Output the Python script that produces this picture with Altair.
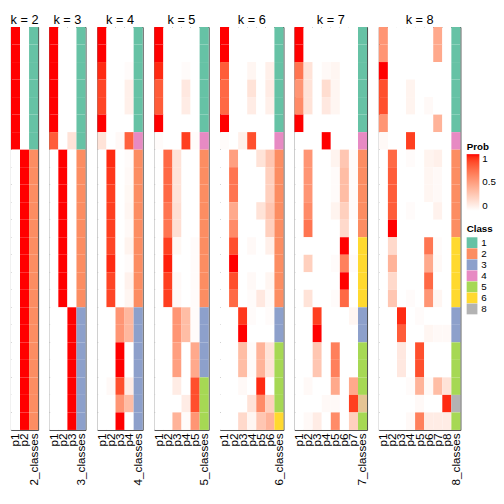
import altair as alt
import pandas as pd

# ---- data ----
prob_k2 = [
    [1, 0], [1, 0], [1, 0], [1, 0], [1, 0], [1, 0], [1, 0],
    [0, 1], [0, 1], [0, 1], [0, 1], [0, 1], [0, 1], [0, 1], [0, 1],
    [0, 1], [0, 1], [0, 1], [0, 1], [0, 1], [0, 1], [0, 1], [0, 1],
]
prob_k3 = [
    [1, 0, 0], [1, 0, 0], [1, 0, 0], [1, 0, 0], [1, 0, 0], [1, 0, 0],
    [0.8, 0, 0.15],
    [0, 1, 0], [0, 1, 0], [0, 1, 0], [0, 1, 0], [0, 1, 0], [0, 1, 0],
    [0, 1, 0], [0, 1, 0], [0, 1, 0],
    [0, 0, 1], [0, 0, 1], [0, 0, 1], [0, 0, 1], [0, 0, 1], [0, 0, 1], [0, 0, 1],
]
prob_k4 = [
    [1, 0, 0, 0], [1, 0, 0, 0], [0.95, 0, 0, 0.02], [0.88, 0, 0, 0.08],
    [0.88, 0, 0, 0.08], [1, 0, 0, 0], [0.15, 0, 0.03, 0.78],
    [0, 0.95, 0, 0.02], [0, 0.92, 0, 0.03], [0, 0.9, 0, 0.04], [0, 0.9, 0, 0.05],
    [0, 0.9, 0, 0.03], [0, 0.88, 0, 0.06], [0, 0.95, 0, 0.02], [0, 0.88, 0, 0.07],
    [0, 0.88, 0, 0.05],
    [0, 0, 0.55, 0.38], [0, 0, 0.55, 0.38], [0, 0, 1, 0], [0, 0, 1, 0],
    [0, 0.03, 0.85, 0.1], [0, 0, 0.55, 0.35], [0, 0, 1, 0],
]
prob_k5 = [
    [1, 0, 0, 0, 0], [1, 0, 0, 0, 0], [0.95, 0, 0, 0.02, 0], [0.8, 0, 0, 0.12, 0],
    [0.8, 0, 0, 0.1, 0], [1, 0, 0, 0, 0], [0.02, 0, 0, 0.9, 0.02],
    [0, 0.75, 0.15, 0, 0], [0, 0.75, 0.15, 0, 0], [0, 0.75, 0.15, 0, 0],
    [0, 0.7, 0.17, 0, 0], [0, 0.7, 0.17, 0, 0], [0, 0.9, 0.04, 0, 0.02],
    [0, 0.97, 0, 0, 0.02], [0, 0.9, 0.03, 0, 0.02], [0, 0.9, 0.03, 0, 0.02],
    [0, 0, 0.55, 0.35, 0.02], [0, 0, 0.55, 0.35, 0.02], [0, 0, 0.5, 0, 0.45],
    [0, 0, 0.5, 0, 0.45], [0, 0, 0.1, 0, 0.85], [0, 0, 0, 0.1, 0.85],
    [0, 0, 0.4, 0.02, 0.55],
]
prob_k6 = [
    [1, 0, 0, 0, 0, 0], [1, 0, 0, 0, 0, 0], [0.8, 0, 0, 0.05, 0, 0.08],
    [0.75, 0, 0, 0.15, 0, 0.1], [0.75, 0, 0, 0.1, 0, 0.08], [1, 0, 0, 0, 0, 0],
    [0.02, 0, 0.08, 0.85, 0, 0],
    [0, 0.5, 0, 0, 0.15, 0.3], [0, 0.7, 0, 0, 0, 0.25], [0, 0.7, 0, 0, 0, 0.25],
    [0, 0.45, 0, 0, 0.15, 0.3], [0, 0.6, 0, 0, 0, 0.25], [0, 0.85, 0, 0.03, 0, 0.08],
    [0, 1, 0, 0, 0, 0], [0, 0.85, 0, 0.03, 0, 0.05], [0, 0.75, 0, 0.02, 0.12, 0.03],
    [0, 0, 0.92, 0.02, 0, 0.02], [0, 0, 1, 0, 0, 0], [0, 0, 0.35, 0.02, 0.4, 0.15],
    [0, 0, 0.35, 0.02, 0.4, 0.15], [0, 0, 0.03, 0, 0.95, 0], [0, 0, 0, 0.15, 0.6, 0.25],
    [0, 0, 0.2, 0.05, 0.3, 0.4],
]
prob_k7 = [
    [1, 0, 0, 0, 0, 0, 0], [1, 0, 0, 0, 0, 0, 0], [0.7, 0.15, 0, 0.03, 0.05, 0, 0],
    [0.55, 0.15, 0, 0.18, 0.05, 0, 0], [0.6, 0.15, 0, 0.12, 0.05, 0, 0],
    [1, 0, 0, 0, 0, 0, 0], [0, 0, 0, 1, 0, 0, 0],
    [0, 0.55, 0, 0, 0.06, 0.3, 0.02], [0, 0.55, 0, 0, 0.02, 0.35, 0.02],
    [0, 0.55, 0, 0, 0.02, 0.35, 0.02], [0, 0.6, 0, 0, 0.06, 0.25, 0.02],
    [0, 0.7, 0, 0, 0, 0.2, 0], [0, 0, 0, 0, 0, 1, 0],
    [0, 0.25, 0, 0, 0.02, 0.65, 0.02], [0, 0, 0, 0, 0, 1, 0],
    [0, 0.15, 0, 0, 0.02, 0.75, 0],
    [0, 0, 0.9, 0, 0, 0, 0.05], [0, 0, 1, 0, 0, 0, 0], [0, 0, 0.3, 0, 0.65, 0, 0],
    [0, 0, 0.3, 0, 0.65, 0, 0], [0, 0.03, 0, 0, 0.45, 0, 0.45],
    [0, 0, 0, 0.03, 0.03, 0, 0.9], [0, 0.03, 0.1, 0, 0.6, 0, 0.25],
]
prob_k8 = [
    [0.55, 0, 0, 0, 0, 0, 0.45, 0], [0.55, 0, 0, 0, 0, 0, 0.45, 0],
    [1, 0, 0, 0, 0, 0, 0, 0], [0.85, 0, 0, 0.06, 0, 0, 0, 0],
    [0.85, 0, 0, 0.06, 0, 0.03, 0, 0], [0.55, 0, 0, 0, 0, 0, 0.4, 0],
    [0.03, 0, 0, 0.9, 0, 0, 0, 0],
    [0, 0.75, 0, 0.02, 0, 0.06, 0.08, 0], [0, 0.8, 0, 0, 0, 0.05, 0.03, 0],
    [0, 0.8, 0, 0, 0, 0.05, 0.03, 0], [0, 0.8, 0, 0.02, 0, 0, 0.07, 0],
    [0, 1, 0, 0, 0, 0, 0, 0], [0, 0.2, 0, 0, 0, 0.7, 0.02, 0],
    [0, 0.4, 0, 0, 0, 0.45, 0.03, 0], [0, 0.2, 0, 0, 0, 0.75, 0, 0],
    [0, 0.3, 0, 0.02, 0, 0.55, 0.05, 0],
    [0, 0, 0.95, 0, 0.02, 0, 0, 0], [0, 0, 0.8, 0, 0, 0.05, 0.03, 0.03],
    [0, 0, 0.12, 0, 0.85, 0, 0, 0], [0, 0, 0.12, 0, 0.85, 0, 0, 0],
    [0, 0, 0, 0.02, 0.4, 0.03, 0.35, 0.15], [0, 0, 0, 0, 0.03, 0, 0, 0.95],
    [0, 0, 0, 0.03, 0.65, 0.1, 0.1, 0.1],
]

class_k2 = [1, 1, 1, 1, 1, 1, 1, 2, 2, 2, 2, 2, 2, 2, 2, 2, 2, 2, 2, 2, 2, 2, 2]
class_k3 = [1, 1, 1, 1, 1, 1, 1, 2, 2, 2, 2, 2, 2, 2, 2, 2, 3, 3, 3, 3, 3, 3, 3]
class_k4 = [1, 1, 1, 1, 1, 1, 4, 2, 2, 2, 2, 2, 2, 2, 2, 2, 3, 3, 3, 3, 3, 3, 3]
class_k5 = [1, 1, 1, 1, 1, 1, 4, 2, 2, 2, 2, 2, 2, 2, 2, 2, 3, 3, 3, 3, 5, 5, 5]
class_k6 = [1, 1, 1, 1, 1, 1, 4, 2, 2, 2, 2, 2, 2, 2, 2, 2, 3, 3, 5, 5, 5, 5, 6]
class_k7 = [1, 1, 1, 1, 1, 1, 4, 2, 2, 2, 2, 2, 6, 6, 6, 6, 3, 3, 5, 5, 5, 7, 5]
class_k8 = [1, 1, 1, 1, 1, 1, 4, 2, 2, 2, 2, 2, 6, 6, 6, 6, 3, 3, 5, 5, 5, 8, 5]

class_domain = ["1", "2", "3", "4", "5", "6", "7", "8"]
class_colors = ["#66C2A5", "#FC8D62", "#8DA0CB", "#E78AC3", "#A6D854",
                "#FFD92F", "#E5C494", "#B3B3B3"]
class_legend_values = ["1", "2", "3", "4", "5", "6", "8"]

panels_data = [
    (2, prob_k2, class_k2), (3, prob_k3, class_k3), (4, prob_k4, class_k4),
    (5, prob_k5, class_k5), (6, prob_k6, class_k6), (7, prob_k7, class_k7),
    (8, prob_k8, class_k8),
]

FONT = "Liberation Sans"
COL_W = 9.27
PANEL_H = 412
n_rows = 23


def make_panel(k, probs, classes):
    cols = [f"p{j + 1}" for j in range(k)] + [f"{k}_classes"]
    recs = []
    for i, r in enumerate(probs):
        for j, v in enumerate(r):
            recs.append({"row": i, "col": f"p{j + 1}", "prob": v})
    dfp = pd.DataFrame(recs)
    dfc = pd.DataFrame({"row": list(range(n_rows)),
                        "col": [f"{k}_classes"] * n_rows,
                        "cls": [str(c) for c in classes]})
    x = alt.X("col:N",
              scale=alt.Scale(domain=cols, paddingInner=0, paddingOuter=0),
              axis=alt.Axis(title=None, labelAngle=-90, labelPadding=3,
                            ticks=False, domain=False, labelOverlap=False,
                            labelFontSize=12, labelFont=FONT, labelColor="black",
                            labelBound=False, labelFlush=False))
    y = alt.Y("row:O",
              scale=alt.Scale(domain=list(range(n_rows)), paddingInner=0, paddingOuter=0),
              axis=None)
    heat = alt.Chart(dfp).mark_rect().encode(
        x=x, y=y,
        color=alt.Color("prob:Q",
                        scale=alt.Scale(domain=[0, 1], range=["#FFFFFF", "#FF0000"],
                                        interpolate="lab"),
                        legend=alt.Legend(title="Prob", orient="none", legendX=466,
                                          legendY=118, gradientLength=58,
                                          gradientThickness=13, values=[0, 0.5, 1],
                                          format="~g",
                                          titleFontSize=10, titleFont=FONT,
                                          titleFontWeight="bold", labelFontSize=10,
                                          labelFont=FONT, titlePadding=2,
                                          labelOffset=3, padding=0,
                                          labelColor="black", titleColor="black",
                                          gradientStrokeWidth=0)),
    )
    cl = alt.Chart(dfc).mark_rect().encode(
        x=x, y=y,
        fill=alt.Fill("cls:N",
                      scale=alt.Scale(domain=class_domain, range=class_colors),
                      legend=alt.Legend(title="Class", orient="none", legendX=466,
                                        legendY=202, values=class_legend_values,
                                        symbolType="square", symbolSize=121,
                                        symbolStrokeWidth=0, symbolOpacity=1,
                                        rowPadding=0.3, titleFontSize=10,
                                        titleFont=FONT, titleFontWeight="bold",
                                        labelFontSize=10, labelFont=FONT,
                                        labelColor="black", titleColor="black",
                                        titlePadding=3, labelOffset=4, padding=0)),
    )
    return alt.layer(heat, cl).properties(
        width=COL_W * (k + 1), height=PANEL_H,
        title=alt.TitleParams(f"k = {k}", fontSize=13, font=FONT,
                              fontWeight="normal", anchor="middle", offset=0,
                              color="black"),
    )


panels = [make_panel(k, p, c) for k, p, c in panels_data]

chart = alt.hconcat(*panels, spacing=11.2, bounds="flush").properties(padding=0).configure_view(
    stroke="#404040", strokeWidth=1
)

chart.save("out.html", embed_options={"renderer": "svg", "actions": False})
